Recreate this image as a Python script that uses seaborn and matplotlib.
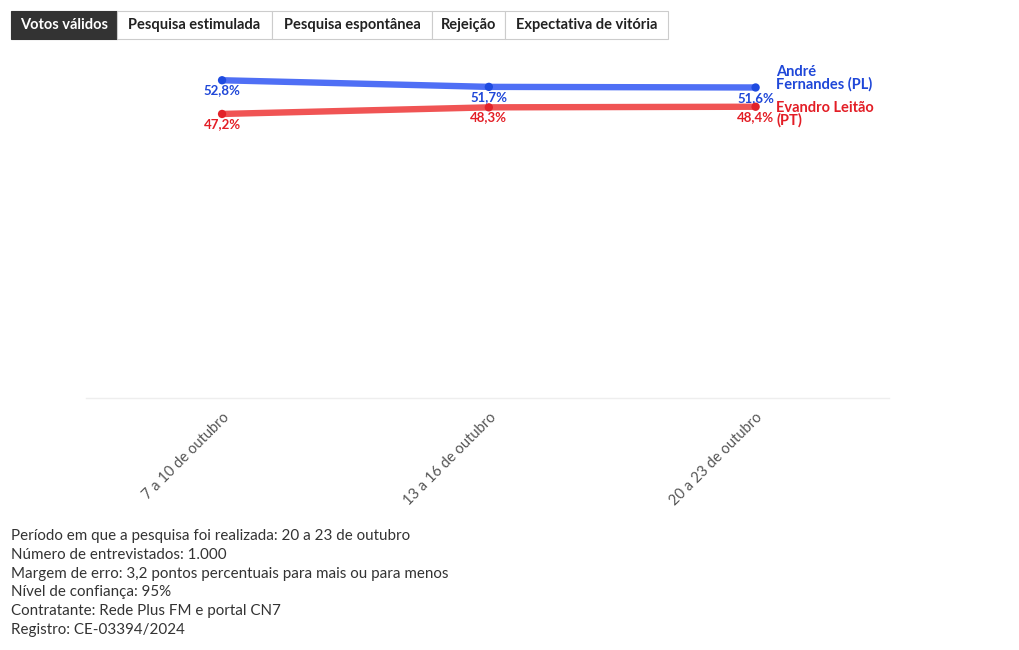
import matplotlib
matplotlib.use("Agg")
import matplotlib.pyplot as plt
import seaborn as sns
import pandas as pd
from matplotlib.patches import Rectangle

# ---- data ----
periods = ["7 a 10 de outubro", "13 a 16 de outubro", "20 a 23 de outubro"]
andre = [52.8, 51.7, 51.6]
evandro = [47.2, 48.3, 48.4]
candidates = ["André Fernandes (PL)", "Evandro Leitão (PT)"]
end_labels = ["André\nFernandes (PL)", "Evandro Leitão\n(PT)"]
tabs = ["Votos válidos", "Pesquisa estimulada", "Pesquisa espontânea", "Rejeição", "Expectativa de vitória"]
notes = [
    "Período em que a pesquisa foi realizada: 20 a 23 de outubro",
    "Número de entrevistados: 1.000",
    "Margem de erro: 3,2 pontos percentuais para mais ou para menos",
    "Nível de confiança: 95%",
    "Contratante: Rede Plus FM e portal CN7",
    "Registro: CE-03394/2024",
]

line_colors = ["#4f6ff5", "#f05454"]
dot_colors = ["#1f4be0", "#e2232a"]
text_colors = ["#1f47d8", "#e31e26"]

sns.set_theme(style="white")
plt.rcParams["font.family"] = ["Lato", "DejaVu Sans"]

df = pd.DataFrame({
    "x": list(range(len(periods))) * 2,
    "v": andre + evandro,
    "c": [candidates[0]] * len(periods) + [candidates[1]] * len(periods),
})

W, H = 1020, 650
fig = plt.figure(figsize=(W / 100, H / 100), dpi=100)
fig.patch.set_facecolor("white")

ymax = 56
top_px, bot_px = 61, 398
left_px, right_px = 86, 889
ax = fig.add_axes([left_px / W, 1 - bot_px / H, (right_px - left_px) / W, (bot_px - top_px) / H])

sns.lineplot(data=df, x="x", y="v", hue="c", palette=dict(zip(candidates, line_colors)),
             linewidth=4.6, ax=ax, legend=False, solid_capstyle="round")
sns.scatterplot(data=df, x="x", y="v", hue="c", palette=dict(zip(candidates, dot_colors)),
                s=36, edgecolor="none", ax=ax, legend=False, zorder=5)

ax.set_xlim(-0.51, 2.5)
ax.set_ylim(0, ymax)
ax.set_xticks(range(len(periods)))
ax.set_xticklabels(periods, rotation=45, ha="right", rotation_mode="anchor",
                   fontsize=10.5, color="#555555")
ax.tick_params(axis="x", length=5, color="#e6e6e6", pad=4)
ax.set_yticks([])
ax.set_xlabel("")
ax.set_ylabel("")
for s in ["top", "right", "left"]:
    ax.spines[s].set_visible(False)
ax.spines["bottom"].set_color("#eeeeee")
ax.spines["bottom"].set_linewidth(1)

fmt = lambda v: f"{v:.1f}%".replace(".", ",")
for i, series in enumerate([andre, evandro]):
    for xi, v in enumerate(series):
        ax.annotate(fmt(v), (xi, v), xytext=(0, -3), textcoords="offset points",
                    ha="center", va="top", fontsize=9.5, fontweight="bold", color=text_colors[i])

# end labels
ax.annotate(end_labels[0], (len(periods) - 1, andre[-1]), xytext=(15, -3), textcoords="offset points",
            ha="left", va="bottom", fontsize=10.5, fontweight="bold", color=text_colors[0],
            linespacing=0.85)
ax.annotate(end_labels[1], (len(periods) - 1, evandro[-1]), xytext=(15, 4), textcoords="offset points",
            ha="left", va="top", fontsize=10.5, fontweight="bold", color=text_colors[1],
            linespacing=0.85)

# tabs
edges = [11, 117, 272, 432, 505, 668]
ty0, ty1 = 11, 39
for i, t in enumerate(tabs):
    x0, x1 = edges[i], edges[i + 1]
    active = i == 0
    fig.patches.append(Rectangle((x0 / W, 1 - ty1 / H), (x1 - x0) / W, (ty1 - ty0) / H,
                                 transform=fig.transFigure, facecolor="#333333" if active else "white",
                                 edgecolor="#333333" if active else "#cccccc", linewidth=0.8))
    fig.text((x0 + x1) / 2 / W, 1 - (ty0 + ty1) / 2 / H, t, ha="center", va="center",
             fontsize=10.5, fontweight="bold", color="white" if active else "#222222")

# notes
for i, n in enumerate(notes):
    fig.text(11 / W, 1 - (536 + i * 18.8) / H, n, ha="left", va="center", fontsize=10.9, color="#333333")

fig.savefig("out.png", dpi=100, facecolor="white")
